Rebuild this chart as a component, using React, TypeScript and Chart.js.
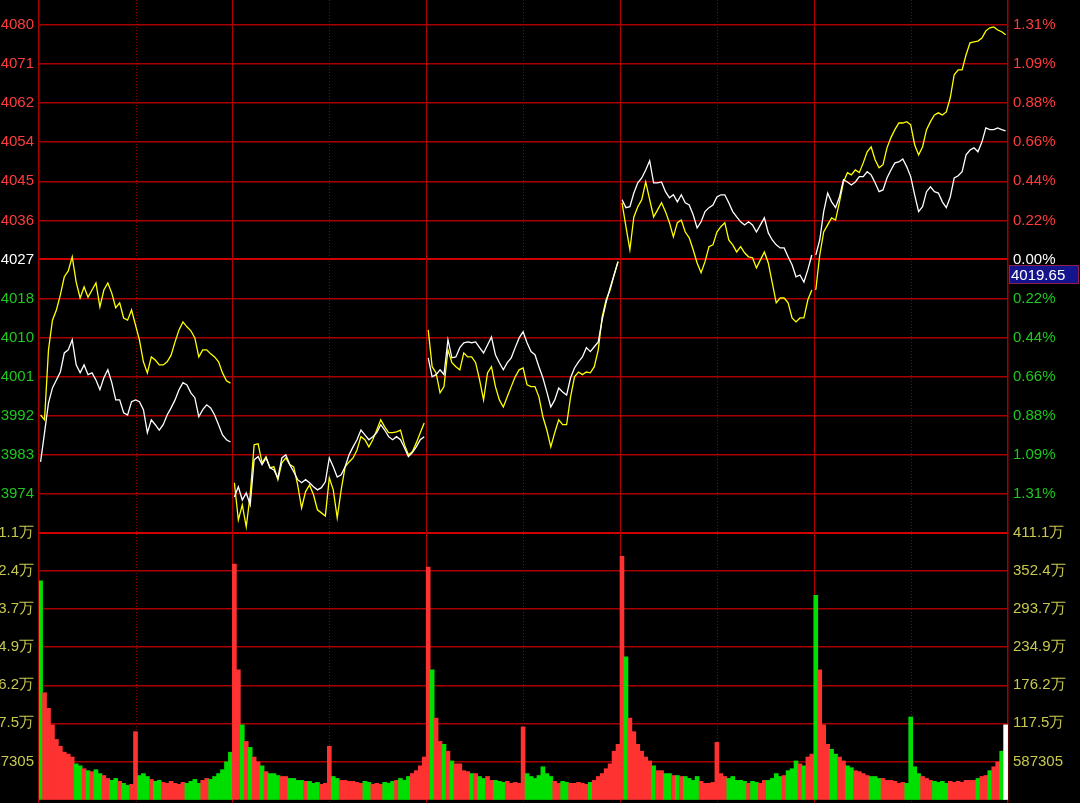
import React, { useEffect, useRef } from 'react';
import { Chart, registerables } from 'chart.js';
Chart.register(...registerables);

// ---------------- data ----------------
const prevClose = 4027.2;
const priceStep = 8.82;
const priceLabels = ['3974', '3983', '3992', '4001', '4010', '4018', '4027', '4036', '4045', '4054', '4062', '4071', '4080'];
const pctLabels = ['1.31%', '1.09%', '0.88%', '0.66%', '0.44%', '0.22%', '0.00%', '0.22%', '0.44%', '0.66%', '0.88%', '1.09%', '1.31%'];
const volStep = 58.7305; // 万
const volLabels = ['587305', '117.5万', '176.2万', '234.9万', '293.7万', '352.4万', '411.1万'];
const cursorLabel = '4019.65';

const white1 = [3981.5, 3988.1, 3994.8, 3998.2, 4000.0, 4001.8, 4006.1, 4006.8, 4009.1, 4003.4, 4001.6, 4003.4, 4001.2, 4001.6, 4000.0, 3997.8, 4000.5, 4002.3, 3999.4, 3995.5, 3995.5, 3992.6, 3992.1, 3995.1, 3995.5, 3995.1, 3993.3, 3988.1, 3991.0, 3989.9, 3988.7, 3989.9, 3992.1, 3993.7, 3995.5, 3997.8, 3999.4, 3998.9, 3997.1, 3996.0, 3991.7, 3993.3, 3994.4, 3993.7, 3992.1, 3989.9, 3987.6, 3986.5, 3986.0];
const white2 = [3973.6, 3975.9, 3972.9, 3974.5, 3971.8, 3982.0, 3982.7, 3980.9, 3982.4, 3980.2, 3979.7, 3977.9, 3982.4, 3983.1, 3980.9, 3979.3, 3977.5, 3976.8, 3977.5, 3976.8, 3975.9, 3975.2, 3975.7, 3977.0, 3982.4, 3980.4, 3978.1, 3978.6, 3980.4, 3983.1, 3984.9, 3986.5, 3988.7, 3987.6, 3986.5, 3987.2, 3988.1, 3989.9, 3988.7, 3987.2, 3986.5, 3987.2, 3986.5, 3984.7, 3982.7, 3983.6, 3984.9, 3986.5, 3987.2];
const white3 = [4005.0, 4000.7, 4001.2, 4002.3, 4001.2, 4009.1, 4005.0, 4005.2, 4007.3, 4008.4, 4008.6, 4008.4, 4008.6, 4007.3, 4006.1, 4007.9, 4009.7, 4005.7, 4003.9, 4002.3, 4003.9, 4005.0, 4007.3, 4009.5, 4010.9, 4008.4, 4006.4, 4005.7, 4003.0, 4000.5, 3997.3, 3993.9, 3995.5, 3998.2, 3997.3, 3996.6, 4000.5, 4002.7, 4004.1, 4005.2, 4007.3, 4006.4, 4007.5, 4008.6, 4013.6, 4017.6, 4020.8, 4023.7, 4026.7];
const white4 = [4040.7, 4038.9, 4039.1, 4042.2, 4044.5, 4045.6, 4047.4, 4049.5, 4044.5, 4044.5, 4044.7, 4042.5, 4041.1, 4041.8, 4040.2, 4041.8, 4040.0, 4039.5, 4037.3, 4034.3, 4035.7, 4038.0, 4038.9, 4039.5, 4041.3, 4041.8, 4041.8, 4040.0, 4038.0, 4036.8, 4035.7, 4035.0, 4035.7, 4035.0, 4033.4, 4035.0, 4036.6, 4033.2, 4031.6, 4030.5, 4029.8, 4029.8, 4027.8, 4026.0, 4023.3, 4023.7, 4022.1, 4024.9, 4028.2];
const white5 = [4028.2, 4031.6, 4038.0, 4042.2, 4040.2, 4038.9, 4041.3, 4045.2, 4044.7, 4044.0, 4044.7, 4045.9, 4045.9, 4047.0, 4046.3, 4044.5, 4042.5, 4042.9, 4045.6, 4047.4, 4049.0, 4049.2, 4049.9, 4048.1, 4045.9, 4041.8, 4038.0, 4039.1, 4042.5, 4043.6, 4042.5, 4042.2, 4040.2, 4038.9, 4041.3, 4045.6, 4046.1, 4047.0, 4050.8, 4051.9, 4052.4, 4051.5, 4053.7, 4056.9, 4056.5, 4056.5, 4056.9, 4056.5, 4056.2];

const yellow1 = [3992.1, 3991.0, 4006.8, 4013.5, 4015.8, 4019.2, 4023.3, 4024.6, 4027.8, 4022.1, 4018.5, 4021.0, 4018.7, 4020.3, 4021.9, 4016.5, 4020.3, 4021.9, 4019.6, 4016.3, 4017.4, 4014.0, 4013.5, 4015.8, 4012.4, 4009.0, 4004.1, 4001.6, 4005.2, 4004.5, 4003.4, 4003.4, 4004.1, 4005.6, 4008.6, 4011.3, 4013.1, 4012.0, 4011.1, 4009.5, 4005.2, 4006.8, 4006.8, 4005.9, 4005.2, 4004.1, 4001.6, 3999.8, 3999.3];
const yellow2 = [3976.8, 3968.4, 3971.8, 3966.9, 3974.1, 3985.4, 3985.6, 3981.3, 3982.7, 3980.2, 3980.4, 3977.5, 3981.3, 3982.4, 3980.9, 3980.4, 3976.3, 3971.1, 3974.8, 3976.3, 3974.1, 3970.7, 3970.0, 3969.3, 3977.9, 3975.2, 3968.9, 3975.2, 3980.4, 3981.5, 3982.4, 3984.2, 3987.2, 3986.5, 3984.9, 3986.5, 3988.7, 3991.0, 3989.4, 3988.1, 3988.1, 3988.3, 3988.7, 3985.4, 3983.1, 3983.8, 3985.8, 3988.1, 3990.3];
const yellow3 = [4011.3, 4003.0, 4001.6, 3997.1, 3998.5, 4006.8, 4003.9, 4003.0, 4002.3, 4006.1, 4005.2, 4005.2, 4003.9, 4000.0, 3995.5, 4001.6, 4003.0, 3998.5, 3995.5, 3993.9, 3996.2, 3998.5, 4000.7, 4002.3, 4002.7, 3998.9, 3998.5, 3998.5, 3996.2, 3991.7, 3988.7, 3984.9, 3988.1, 3991.0, 3989.9, 3989.9, 3996.2, 4000.7, 4001.8, 4001.2, 4001.8, 4001.6, 4003.0, 4006.8, 4014.3, 4018.1, 4020.3, 4023.7, 4026.7];
const yellow4 = [4040.0, 4034.6, 4029.4, 4036.8, 4039.1, 4040.7, 4044.7, 4040.7, 4036.8, 4038.4, 4040.0, 4038.0, 4035.5, 4032.3, 4035.5, 4036.1, 4033.4, 4032.1, 4029.4, 4026.4, 4024.2, 4026.7, 4030.1, 4030.5, 4033.4, 4034.6, 4035.5, 4031.6, 4030.5, 4028.9, 4030.1, 4028.7, 4027.8, 4027.6, 4025.3, 4027.1, 4028.9, 4026.4, 4021.9, 4017.4, 4018.5, 4018.5, 4017.4, 4014.0, 4013.1, 4014.0, 4014.0, 4018.1, 4020.3];
const yellow5 = [4020.3, 4028.2, 4033.4, 4035.0, 4036.6, 4036.1, 4040.2, 4044.7, 4046.8, 4046.3, 4047.4, 4046.8, 4049.0, 4051.5, 4052.6, 4049.7, 4047.9, 4048.6, 4052.4, 4054.7, 4056.5, 4058.0, 4058.0, 4058.3, 4057.6, 4053.1, 4050.8, 4052.6, 4056.5, 4058.3, 4059.8, 4060.3, 4059.8, 4060.5, 4063.7, 4068.9, 4070.0, 4070.0, 4073.4, 4076.1, 4076.3, 4076.5, 4077.2, 4078.8, 4079.5, 4079.7, 4079.0, 4078.6, 4077.9];

// volume in 万
const vol1 = [337.5, 164.7, 140.7, 115.1, 92.6, 82.1, 73.0, 70.0, 65.5, 55.0, 52.0, 47.5, 44.5, 43.0, 46.0, 40.0, 37.0, 32.5, 29.5, 32.5, 28.0, 24.9, 21.9, 23.4, 104.6, 37.0, 40.0, 35.5, 31.0, 28.0, 29.5, 26.4, 24.9, 28.0, 24.9, 23.4, 26.4, 24.9, 28.0, 31.0, 24.9, 29.5, 32.5, 31.0, 35.5, 40.0, 46.0, 58.0, 73.0];
const vol2 = [363.1, 200.0, 115.1, 89.6, 80.5, 65.5, 58.0, 52.0, 43.0, 40.0, 40.0, 37.0, 35.5, 35.5, 32.5, 32.5, 29.5, 29.5, 28.0, 28.0, 24.9, 26.4, 23.4, 24.9, 82.1, 35.5, 32.5, 29.5, 29.5, 28.0, 28.0, 26.4, 24.9, 28.0, 26.4, 23.4, 24.9, 23.4, 26.4, 24.9, 28.0, 29.5, 32.5, 29.5, 35.5, 40.0, 44.5, 52.0, 65.5];
const vol3 = [358.6, 200.0, 125.6, 89.6, 85.1, 74.5, 59.5, 55.0, 55.0, 44.5, 43.0, 40.0, 40.0, 35.5, 32.5, 35.5, 29.5, 29.5, 28.0, 26.4, 28.0, 24.9, 26.4, 24.9, 112.0, 40.0, 35.5, 32.5, 37.0, 50.5, 40.0, 35.5, 28.0, 24.9, 28.0, 26.4, 24.9, 24.9, 26.4, 24.9, 23.4, 26.4, 29.5, 35.5, 40.0, 47.5, 55.0, 74.5, 85.1];
const vol4 = [375.1, 220.0, 125.6, 104.6, 85.1, 74.5, 65.5, 59.5, 52.0, 44.5, 44.5, 40.0, 40.0, 37.0, 37.0, 35.5, 35.5, 32.5, 29.5, 35.5, 28.0, 24.9, 24.9, 26.4, 88.1, 40.0, 35.5, 32.5, 35.5, 29.5, 29.5, 28.0, 24.9, 28.0, 26.4, 24.9, 29.5, 29.5, 32.5, 40.0, 35.5, 37.0, 44.5, 47.5, 59.5, 55.0, 52.0, 65.5, 70.0];
const vol5 = [315.0, 200.0, 115.1, 85.1, 77.5, 70.0, 65.5, 59.5, 52.0, 49.0, 44.5, 43.0, 40.0, 37.0, 35.5, 35.5, 32.5, 32.5, 29.5, 29.5, 28.0, 24.9, 26.4, 24.9, 127.3, 50.5, 40.0, 35.5, 32.5, 29.5, 28.0, 26.4, 28.0, 24.9, 28.0, 26.4, 28.0, 26.4, 29.5, 29.5, 29.5, 32.5, 35.5, 37.0, 44.5, 50.5, 58.0, 74.5, 115.1];
const openUp = [false, true, true, true, false];

const whiteDays = [white1, white2, white3, white4, white5];
const yellowDays = [yellow1, yellow2, yellow3, yellow4, yellow5];
const volDays = [vol1, vol2, vol3, vol4, vol5];

// time layout (minutes)
const DAY_SPAN = 245;
const SAMPLE_MIN = 5;
const X_MIN = -2;
const X_MAX = 5 * DAY_SPAN - 2;

const PRICE_MIN = prevClose - 7 * priceStep;
const PRICE_MAX = prevClose + 6.64 * priceStep;
const VOL_MAX = 7 * volStep;
const VOL_MIN = -0.092 * volStep;

const RED_TXT = '#ff3c3c';
const GREEN_TXT = '#1ec81e';
const VOL_TXT = '#c8c850';
const GRID = '#a80000';
const FONT = { family: '"Liberation Sans", Arial, sans-serif', size: 15 };

function buildLine(days: number[][]) {
  const pts: { x: number; y: number | null }[] = [];
  days.forEach((arr, d) => {
    arr.forEach((v, i) => pts.push({ x: d * DAY_SPAN + i * SAMPLE_MIN, y: v }));
    pts.push({ x: d * DAY_SPAN + 242, y: null });
  });
  return pts;
}

function buildVol() {
  const pts: { x: number; y: number }[] = [];
  const colors: string[] = [];
  volDays.forEach((arr, d) => {
    const w = whiteDays[d];
    arr.forEach((v, i) => {
      pts.push({ x: d * DAY_SPAN + i * SAMPLE_MIN, y: v });
      const up = i === 0 ? openUp[d] : w[i] >= w[i - 1];
      let c = up ? '#ff3232' : '#00e000';
      if (d === volDays.length - 1 && i === arr.length - 1) c = '#ffffff';
      colors.push(c);
    });
  });
  return { pts, colors };
}

const priceTicks = priceLabels.map((_, i) => prevClose + (i - 6) * priceStep);
const volTicks = volLabels.map((_, i) => (i + 1) * volStep);
const sepTicks = [1, 2, 3, 4].map((d) => d * DAY_SPAN - 2.5);
const midTicks = [0, 1, 2, 3, 4].map((d) => d * DAY_SPAN + 120);

const priceColor = (i: number) => (i > 6 ? RED_TXT : i === 6 ? '#ffffff' : GREEN_TXT);

const noPadV = (w: number) => (s: any) => {
  s.width = w;
  s.paddingTop = 0;
  s.paddingBottom = 0;
};
const noPadH = (s: any) => {
  s.height = 0;
  s.paddingLeft = 0;
  s.paddingRight = 0;
};

// vertical session lines: solid at day boundaries, dotted at midday
const sessionLines = {
  id: 'sessionLines',
  beforeDatasetsDraw(chart: any) {
    const xs = chart.scales.x;
    const { top, bottom } = chart.chartArea;
    const ctx = chart.ctx;
    ctx.save();
    ctx.lineWidth = 1;
    ctx.strokeStyle = '#b00000';
    sepTicks.forEach((v) => {
      const px = Math.round(xs.getPixelForValue(v)) + 0.5;
      ctx.setLineDash([]);
      ctx.beginPath();
      ctx.moveTo(px, top);
      ctx.lineTo(px, bottom);
      ctx.stroke();
    });
    ctx.strokeStyle = '#900000';
    midTicks.forEach((v) => {
      const px = Math.round(xs.getPixelForValue(v)) + 0.5;
      ctx.setLineDash([1, 2]);
      ctx.beginPath();
      ctx.moveTo(px, top);
      ctx.lineTo(px, bottom);
      ctx.stroke();
    });
    ctx.restore();
  },
};

const cursorPlugin = {
  id: 'cursorBox',
  afterDraw(chart: any) {
    const s = chart.scales.yR;
    if (!s) return;
    const ctx = chart.ctx;
    const yb = s.getPixelForValue(prevClose);
    const left = s.left + 1;
    const top = Math.round(yb) + 6;
    const w = 70;
    const h = 19;
    ctx.save();
    ctx.fillStyle = '#14148c';
    ctx.fillRect(left, top, w, h);
    ctx.strokeStyle = '#8c1e50';
    ctx.lineWidth = 1;
    ctx.strokeRect(left + 0.5, top + 0.5, w - 1, h - 1);
    ctx.fillStyle = '#ffffff';
    ctx.font = '15px "Liberation Sans", Arial, sans-serif';
    ctx.textBaseline = 'middle';
    ctx.textAlign = 'left';
    ctx.fillText(cursorLabel, left + 2, top + h / 2 + 1);
    ctx.restore();
  },
};

export default function App() {
  const ref = useRef<HTMLCanvasElement | null>(null);
  useEffect(() => {
    document.body.style.margin = '0';
    document.body.style.background = '#000';
    const vol = buildVol();
    const chart = new Chart(ref.current as HTMLCanvasElement, {
      type: 'line',
      data: {
        datasets: [
          {
            type: 'line',
            label: 'white',
            data: buildLine(whiteDays),
            borderColor: '#ffffff',
            borderWidth: 1.3,
            pointRadius: 0,
            spanGaps: false,
            yAxisID: 'y',
          },
          {
            type: 'line',
            label: 'yellow',
            data: buildLine(yellowDays),
            borderColor: '#ffff00',
            borderWidth: 1.3,
            pointRadius: 0,
            spanGaps: false,
            yAxisID: 'y',
          },
          {
            type: 'bar',
            label: 'vol',
            data: vol.pts,
            backgroundColor: vol.colors,
            barThickness: 4,
            yAxisID: 'v',
          } as any,
        ],
      },
      options: {
        animation: false,
        responsive: false,
        maintainAspectRatio: false,
        layout: { padding: 0 },
        plugins: { legend: { display: false }, tooltip: { enabled: false } },
        scales: {
          x: {
            type: 'linear',
            min: X_MIN,
            max: X_MAX,
            offset: false,
            ticks: { display: false },
            grid: { display: false, drawTicks: false },
            border: { display: false },
            afterFit: noPadH,
          },
          v: {
            type: 'linear',
            position: 'left',
            stack: 'L',
            stackWeight: 270,
            min: VOL_MIN,
            max: VOL_MAX,
            afterBuildTicks: (s: any) => {
              s.ticks = volTicks.map((v) => ({ value: v }));
            },
            afterFit: noPadV(39),
            ticks: {
              padding: 5,
              autoSkip: false,
              font: FONT,
              color: VOL_TXT,
              callback: (_v: any, i: number) => volLabels[i],
            },
            grid: {
              drawTicks: false,
              color: (ctx: any) => (ctx.index === volTicks.length - 1 ? '#d00000' : GRID),
              lineWidth: (ctx: any) => (ctx.index === volTicks.length - 1 ? 2 : 1.5),
            },
            border: { color: GRID, width: 1.5 },
          },
          y: {
            type: 'linear',
            position: 'left',
            stack: 'L',
            stackWeight: 533,
            min: PRICE_MIN,
            max: PRICE_MAX,
            afterBuildTicks: (s: any) => {
              s.ticks = priceTicks.map((v) => ({ value: v }));
            },
            afterFit: noPadV(39),
            ticks: {
              padding: 5,
              autoSkip: false,
              font: FONT,
              color: (ctx: any) => priceColor(ctx.index),
              callback: (_v: any, i: number) => priceLabels[i],
            },
            grid: {
              drawTicks: false,
              color: (ctx: any) => (ctx.index === 6 ? '#d00000' : GRID),
              lineWidth: (ctx: any) => (ctx.index === 6 ? 2 : 1.5),
            },
            border: { color: GRID, width: 1.5 },
          },
          yR: {
            type: 'linear',
            position: 'right',
            stack: 'R',
            stackWeight: 533,
            min: PRICE_MIN,
            max: PRICE_MAX,
            afterBuildTicks: (s: any) => {
              s.ticks = priceTicks.map((v) => ({ value: v }));
            },
            afterFit: noPadV(72),
            ticks: {
              padding: 5,
              autoSkip: false,
              font: FONT,
              color: (ctx: any) => priceColor(ctx.index),
              callback: (_v: any, i: number) => pctLabels[i],
            },
            grid: { drawTicks: false, drawOnChartArea: false },
            border: { color: GRID, width: 1.5 },
          },
          vR: {
            type: 'linear',
            position: 'right',
            stack: 'R',
            stackWeight: 270,
            min: VOL_MIN,
            max: VOL_MAX,
            afterBuildTicks: (s: any) => {
              s.ticks = volTicks.map((v) => ({ value: v }));
            },
            afterFit: noPadV(72),
            ticks: {
              padding: 5,
              autoSkip: false,
              font: FONT,
              color: VOL_TXT,
              callback: (_v: any, i: number) => volLabels[i],
            },
            grid: { drawTicks: false, drawOnChartArea: false },
            border: { color: GRID, width: 1.5 },
          },
        },
      } as any,
      plugins: [sessionLines, cursorPlugin],
    });
    return () => chart.destroy();
  }, []);
  return (
    <div style={{ position: 'fixed', left: 0, top: 0, width: 1080, height: 803, background: '#000' }}>
      <canvas ref={ref} width={1080} height={803} style={{ display: 'block', width: 1080, height: 803 }} />
    </div>
  );
}
